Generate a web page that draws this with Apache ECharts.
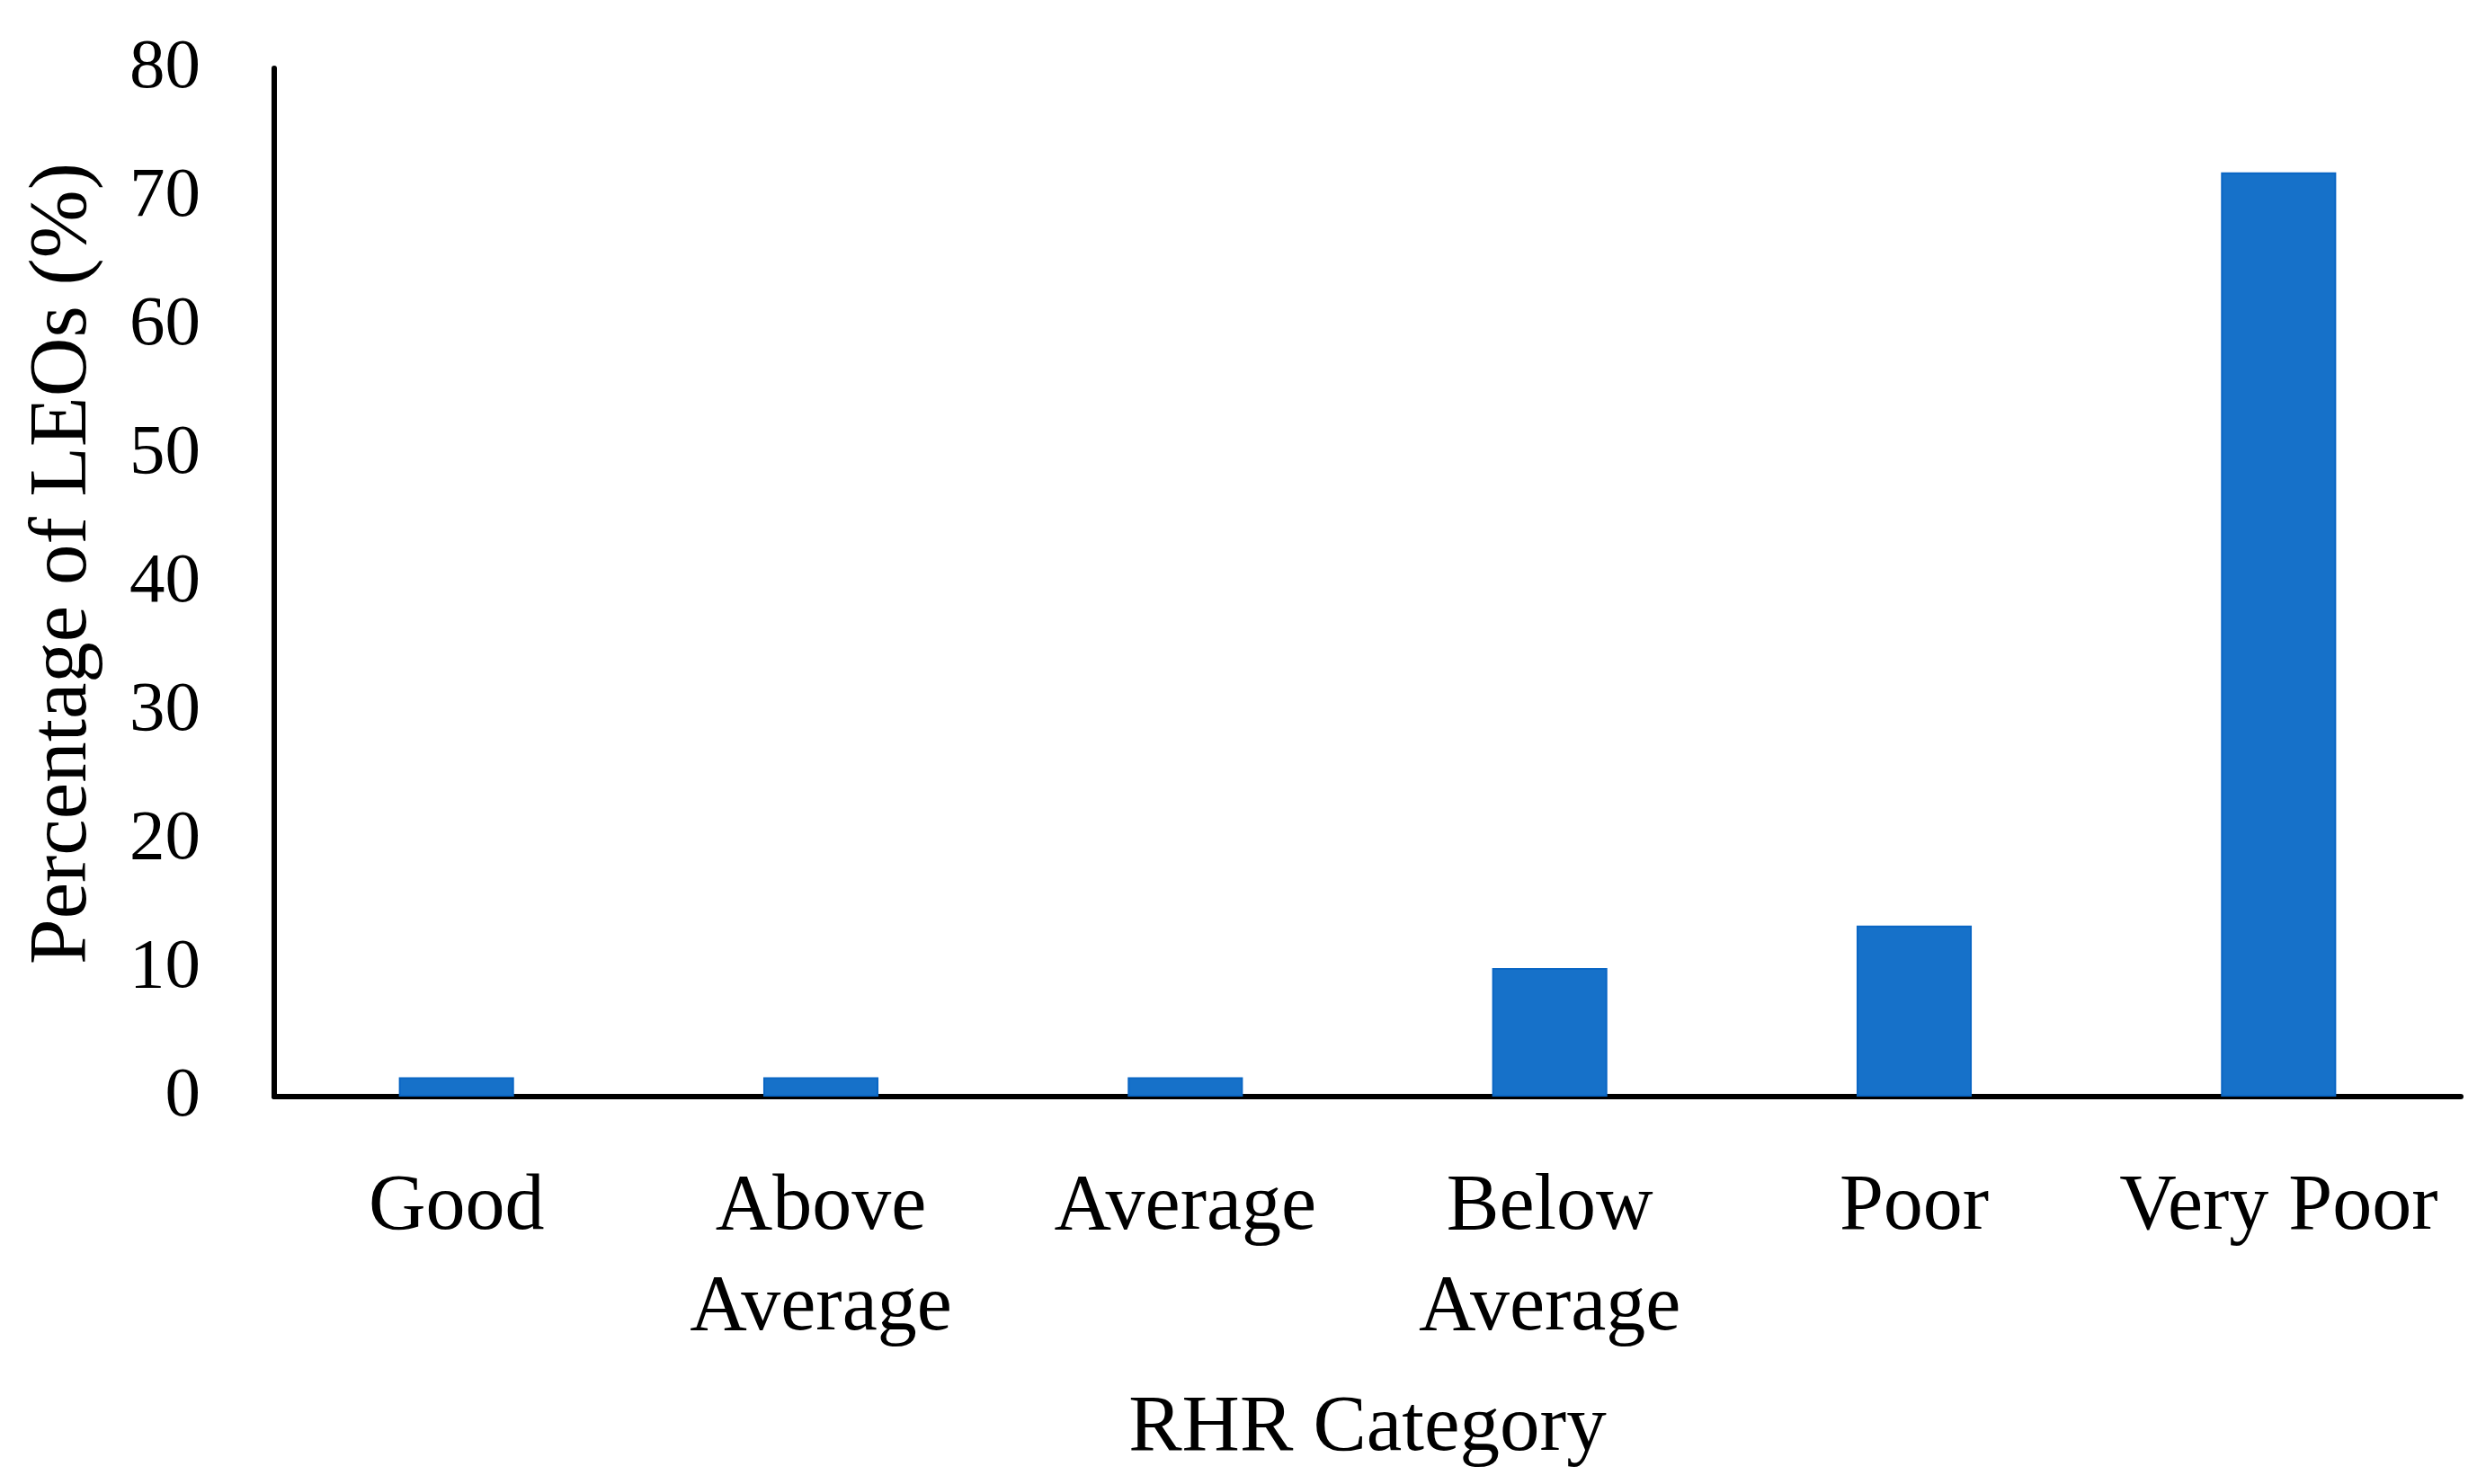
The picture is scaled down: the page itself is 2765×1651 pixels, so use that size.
<!DOCTYPE html>
<html>
<head>
<meta charset="utf-8">
<script src="https://cdn.jsdelivr.net/npm/echarts@6/dist/echarts.min.js"></script>
<style>
html, body { margin: 0; padding: 0; background: #ffffff; }
#chart { width: 2765px; height: 1651px; }
</style>
</head>
<body>
<div id="chart"></div>
<script>
const categories = ['Good', 'Above\nAverage', 'Average', 'Below\nAverage', 'Poor', 'Very Poor'];
const percentages = [1.5, 1.5, 1.5, 10.0, 13.3, 71.9];
const yTicks = { min: 0, max: 80, interval: 10 };
const xTitle = 'RHR Category';
const yTitle = 'Percentage of LEOs (%)';

const FONT = '"Liberation Serif", "DejaVu Serif", serif';
const chart = echarts.init(document.getElementById('chart'), null, { renderer: 'canvas' });
chart.setOption({
  backgroundColor: '#ffffff',
  animation: false,
  grid: { left: 305, right: 28, top: 76, bottom: 431, containLabel: false },
  xAxis: {
    type: 'category',
    data: categories,
    name: xTitle,
    nameLocation: 'middle',
    nameGap: 325,
    nameTextStyle: { fontFamily: FONT, fontSize: 89, color: '#000000' },
    axisLine: { show: true, lineStyle: { color: '#000000', width: 6 } },
    axisTick: { show: false },
    axisLabel: {
      interval: 0,
      margin: 68,
      fontFamily: FONT,
      fontSize: 88,
      lineHeight: 112,
      color: '#000000'
    },
    splitLine: { show: false }
  },
  yAxis: {
    type: 'value',
    min: yTicks.min,
    max: yTicks.max,
    interval: yTicks.interval,
    name: yTitle,
    nameLocation: 'middle',
    nameGap: 188,
    nameRotate: 90,
    nameTextStyle: { fontFamily: FONT, fontSize: 91, color: '#000000', padding: [0, 0, 0, 42] },
    axisLine: { show: true, lineStyle: { color: '#000000', width: 6 } },
    axisTick: { show: false },
    axisLabel: { margin: 82, fontFamily: FONT, fontSize: 79, color: '#000000' },
    splitLine: { show: false }
  },
  series: [{
    type: 'bar',
    data: percentages,
    barWidth: '31.6%',
    itemStyle: { color: '#1671c9', borderColor: '#0a66c4', borderWidth: 2 }
  }]
});
</script>
</body>
</html>
